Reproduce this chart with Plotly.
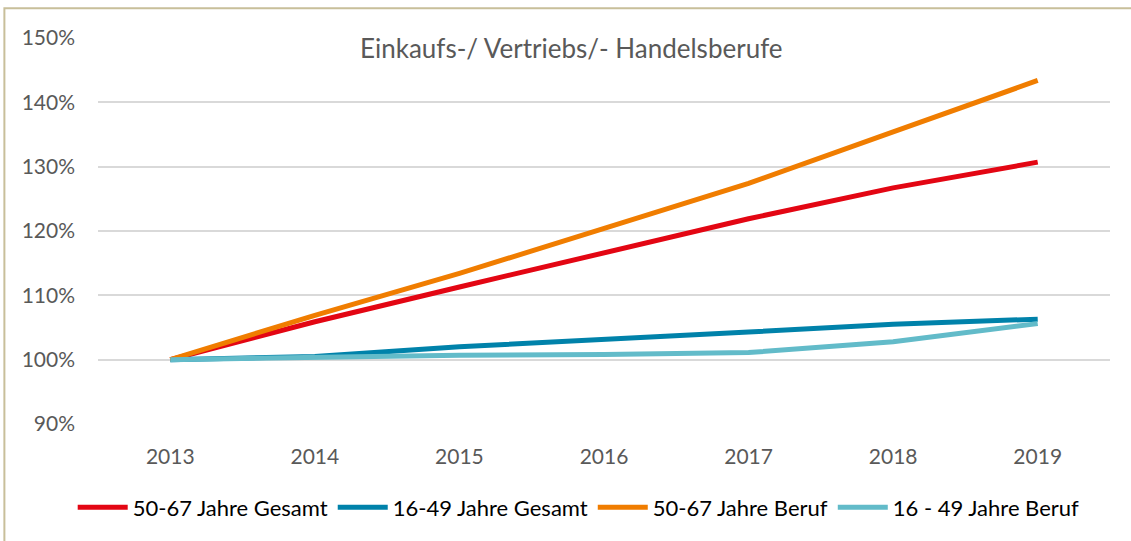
import plotly.graph_objects as go

years = ["2013", "2014", "2015", "2016", "2017", "2018", "2019"]
gesamt_50_67 = [100.0, 105.9, 111.3, 116.6, 121.9, 126.7, 130.7]
gesamt_16_49 = [100.0, 100.5, 102.0, 103.1, 104.3, 105.5, 106.3]
beruf_50_67 = [100.0, 106.9, 113.4, 120.3, 127.4, 135.4, 143.4]
beruf_16_49 = [100.0, 100.4, 100.7, 100.8, 101.1, 102.8, 105.6]

series = [
    ("50-67 Jahre Gesamt", gesamt_50_67, "#E30613"),
    ("16-49 Jahre Gesamt", gesamt_16_49, "#0082AA"),
    ("50-67 Jahre Beruf", beruf_50_67, "#F07D00"),
    ("16 - 49 Jahre Beruf", beruf_16_49, "#62BBC9"),
]

title_text = "Einkaufs-/ Vertriebs/- Handelsberufe"
font_family = "Lato, 'Open Sans', sans-serif"

fig = go.Figure()
for name, vals, col in series:
    fig.add_trace(go.Scatter(
        x=years, y=[v / 100 for v in vals], name=name, mode="lines",
        line=dict(color=col, width=5),
    ))

fig.update_layout(
    width=1131, height=541,
    margin=dict(l=98, r=21, t=38, b=115),
    paper_bgcolor="white", plot_bgcolor="white",
    font=dict(family=font_family, color="#595959", size=21),
    showlegend=True,
    legend=dict(orientation="h", x=0.475, xanchor="center", y=-0.2165, yanchor="middle",
                font=dict(size=22, color="#000000"), itemwidth=50, tracegroupgap=0),
    xaxis=dict(type="category", range=[-0.5, 6.5], showgrid=False, zeroline=False,
               showline=False, ticks="", ticklabelstandoff=18,
               tickfont=dict(size=21, color="#595959")),
    yaxis=dict(range=[0.9, 1.5], dtick=0.1, tick0=0.9, tickformat=".0%",
               showgrid=True, gridcolor="#D9D9D9", gridwidth=1.5, zeroline=False,
               showline=False, ticks="", ticklabelstandoff=22,
               tickfont=dict(size=21, color="#595959")),
    annotations=[dict(text=title_text, xref="paper", yref="paper", x=0.468, y=0.974,
                      xanchor="center", yanchor="middle", showarrow=False,
                      font=dict(size=26, color="#595959", family=font_family))],
    shapes=[dict(type="rect", xref="paper", yref="paper",
                 x0=-0.0925, x1=1.03, y0=-0.31, y1=1.0773,
                 line=dict(color="#C8BF9A", width=2), layer="below")],
)

fig.write_html("out.html", config={"displayModeBar": False},
               post_script="document.body.style.margin='0';")
